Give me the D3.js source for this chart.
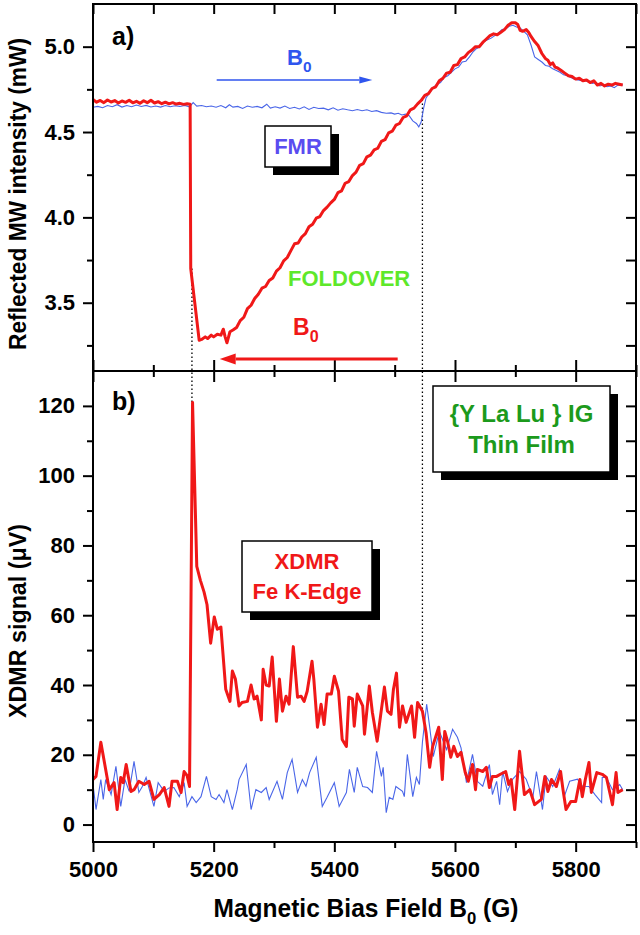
<!DOCTYPE html>
<html>
<head>
<meta charset="utf-8">
<script src="https://cdn.jsdelivr.net/npm/d3@7"></script>
<style>
  body { margin: 0; background: #fff; }
  text { font-family: "Liberation Sans", Arial, sans-serif; font-weight: bold; }
</style>
</head>
<body>
<svg id="chart" width="640" height="935"></svg>
<script>
// ---- data ----
var fieldTicks = [5000, 5200, 5400, 5600, 5800];
var fieldMinor = [5100, 5300, 5500, 5700, 5900];
var powerTicks = [3.5, 4.0, 4.5, 5.0];
var powerMinor = [3.25, 3.75, 4.25, 4.75];
var signalTicks = [0, 20, 40, 60, 80, 100, 120];
var signalMinor = [10, 30, 50, 70, 90, 110];

// a) FMR, field swept up (blue)
var fmrUp = [[5000,4.645],[5008,4.65],[5016,4.642],[5024,4.655],[5032,4.648],[5040,4.66],[5048,4.646],[5056,4.655],[5064,4.648],[5072,4.658],[5080,4.65],[5088,4.656],[5096,4.647],[5104,4.652],[5112,4.646],[5120,4.655],[5128,4.648],[5136,4.654],[5144,4.65],[5152,4.656],[5160,4.648],[5166,4.672],[5172,4.652],[5180,4.655],[5188,4.648],[5196,4.652],[5204,4.645],[5212,4.655],[5220,4.642],[5226,4.66],[5232,4.646],[5240,4.65],[5248,4.638],[5256,4.652],[5264,4.645],[5272,4.65],[5280,4.642],[5288,4.663],[5294,4.64],[5302,4.648],[5310,4.64],[5318,4.652],[5326,4.638],[5334,4.645],[5342,4.635],[5350,4.648],[5358,4.632],[5366,4.645],[5374,4.638],[5382,4.64],[5390,4.63],[5398,4.642],[5406,4.628],[5414,4.636],[5422,4.63],[5430,4.625],[5438,4.632],[5446,4.625],[5454,4.63],[5462,4.62],[5470,4.625],[5478,4.615],[5486,4.61],[5494,4.612],[5500,4.605],[5506,4.61],[5512,4.6],[5518,4.605],[5524,4.595],[5530,4.565],[5536,4.55],[5540,4.53],[5544,4.56],[5548,4.64],[5552,4.7],[5558,4.73],[5564,4.76],[5570,4.78],[5576,4.79],[5582,4.82],[5588,4.83],[5594,4.85],[5600,4.87],[5606,4.88],[5612,4.91],[5618,4.915],[5624,4.94],[5630,4.97],[5636,4.99],[5642,5.0],[5648,5.03],[5654,5.04],[5660,5.05],[5666,5.065],[5672,5.08],[5678,5.1],[5684,5.105],[5690,5.12],[5696,5.125],[5702,5.115],[5708,5.11],[5714,5.09],[5720,5.07],[5726,5.01],[5732,4.94],[5738,4.925],[5744,4.91],[5750,4.89],[5756,4.885],[5762,4.87],[5768,4.86],[5774,4.85],[5780,4.835],[5786,4.83],[5792,4.82],[5798,4.81],[5804,4.805],[5810,4.8],[5816,4.8],[5822,4.795],[5828,4.785],[5834,4.79],[5840,4.77],[5846,4.775],[5852,4.765],[5858,4.77],[5864,4.76],[5870,4.775],[5878,4.775]];

// a) foldover, field swept down (red)
var foldDown = [[5000,4.69],[5006,4.675],[5012,4.685],[5018,4.672],[5024,4.688],[5030,4.676],[5036,4.684],[5042,4.67],[5048,4.682],[5054,4.674],[5060,4.686],[5066,4.671],[5072,4.68],[5078,4.668],[5084,4.683],[5090,4.672],[5096,4.686],[5102,4.67],[5108,4.678],[5114,4.666],[5120,4.675],[5126,4.665],[5132,4.672],[5138,4.664],[5144,4.668],[5150,4.662],[5156,4.666],[5161,4.663],[5162,3.70],[5176,3.28],[5180,3.285],[5186,3.30],[5190,3.29],[5196,3.31],[5200,3.30],[5206,3.315],[5212,3.31],[5216,3.345],[5219,3.30],[5222,3.265],[5227,3.33],[5232,3.34],[5238,3.355],[5244,3.395],[5250,3.415],[5256,3.465],[5262,3.485],[5268,3.525],[5274,3.55],[5280,3.585],[5286,3.595],[5292,3.63],[5298,3.645],[5304,3.685],[5310,3.705],[5316,3.745],[5322,3.765],[5328,3.805],[5334,3.845],[5340,3.85],[5346,3.885],[5352,3.905],[5358,3.945],[5364,3.96],[5370,3.995],[5376,4.005],[5382,4.04],[5388,4.06],[5394,4.085],[5400,4.105],[5406,4.145],[5412,4.155],[5418,4.20],[5424,4.21],[5430,4.245],[5436,4.265],[5442,4.305],[5448,4.315],[5454,4.355],[5460,4.365],[5466,4.395],[5472,4.405],[5478,4.445],[5484,4.455],[5490,4.495],[5496,4.505],[5502,4.54],[5508,4.55],[5514,4.585],[5520,4.595],[5526,4.63],[5532,4.64],[5538,4.665],[5544,4.685],[5550,4.715],[5556,4.725],[5562,4.755],[5568,4.765],[5574,4.8],[5580,4.815],[5586,4.845],[5592,4.85],[5598,4.89],[5604,4.895],[5610,4.93],[5616,4.94],[5622,4.965],[5628,4.98],[5634,5.0],[5640,5.0],[5646,5.025],[5652,5.045],[5658,5.065],[5664,5.075],[5670,5.07],[5676,5.085],[5682,5.10],[5688,5.125],[5694,5.14],[5700,5.14],[5704,5.13],[5708,5.095],[5712,5.09],[5718,5.10],[5722,5.085],[5726,5.06],[5732,5.03],[5738,5.005],[5744,4.96],[5750,4.93],[5754,4.92],[5758,4.895],[5762,4.905],[5766,4.88],[5770,4.875],[5776,4.86],[5782,4.845],[5788,4.83],[5794,4.825],[5800,4.81],[5806,4.815],[5812,4.80],[5818,4.805],[5824,4.79],[5830,4.8],[5836,4.775],[5842,4.785],[5848,4.77],[5854,4.78],[5860,4.775],[5866,4.785],[5872,4.78],[5878,4.775]];

// b) XDMR, field swept down (red)
var xdmrDown = [[5000,12.9],[5005,13.8],[5013,23.6],[5018,18.7],[5027,10],[5035,12],[5040,4.3],[5046,13.5],[5050,12],[5055,17.2],[5063,9.5],[5068,10],[5076,12.4],[5085,11.5],[5093,12.4],[5101,7.2],[5110,8.6],[5118,10.6],[5126,5.2],[5131,12.4],[5140,12.4],[5146,9.2],[5151,15.2],[5156,14],[5160,10.9],[5165,121],[5172,74],[5178,70],[5184,66.7],[5189,63],[5195,52],[5201,59.5],[5206,56],[5212,56.6],[5220,38.8],[5227,35.3],[5231,44],[5236,41.7],[5242,34],[5247,35],[5256,35.3],[5262,40],[5267,36],[5272,36.8],[5279,30],[5282,44.5],[5287,40],[5292,39.7],[5297,48],[5304,29.6],[5309,41.7],[5314,32.5],[5320,36.8],[5325,34.5],[5332,51],[5339,36.5],[5345,36.8],[5350,35.3],[5355,38.2],[5363,46.8],[5366,41.7],[5372,27.9],[5378,34.5],[5383,28.7],[5388,37.4],[5395,37.4],[5400,42.5],[5407,38.2],[5413,24.4],[5420,22.4],[5424,36.5],[5430,36],[5433,28.2],[5438,37.4],[5447,34],[5450,25.9],[5458,39.7],[5463,32.2],[5471,23.9],[5483,39.4],[5488,32.5],[5494,31.6],[5498,38.8],[5503,43.4],[5508,27.9],[5513,34],[5519,29.3],[5528,34],[5533,25],[5538,35],[5546,32.5],[5552,26.4],[5558,16.4],[5563,22.4],[5573,27.9],[5579,12.9],[5583,26.7],[5588,23.6],[5593,19.3],[5598,22.4],[5604,19.5],[5610,20.7],[5617,14.9],[5622,12.4],[5629,17.2],[5634,10],[5637,15.8],[5646,15.2],[5652,16.4],[5657,10.6],[5662,13.8],[5669,13.8],[5676,14.5],[5684,15.2],[5689,11.5],[5693,12.9],[5699,4.3],[5707,21],[5715,8.6],[5724,10],[5732,5.7],[5743,7.2],[5749,13.8],[5754,9.5],[5760,12.9],[5768,10.9],[5775,15.2],[5779,10],[5784,4.3],[5792,6.6],[5800,6.6],[5807,12.9],[5811,8],[5816,12.9],[5822,17.8],[5826,9.2],[5835,14.9],[5844,14.4],[5851,13.5],[5861,5.7],[5867,14.9],[5870,9.2],[5878,10]];

// b) XDMR, field swept up (blue)
var xdmrUp = [[5000,11.5],[5005,4.3],[5013,12.9],[5017,7.2],[5021,12.9],[5030,8.6],[5038,16.7],[5046,5.2],[5053,12.9],[5060,9.5],[5068,18.1],[5076,9.2],[5082,11],[5088,13.5],[5095,9],[5101,5.2],[5108,12],[5118,9.5],[5126,10.5],[5134,10.6],[5143,8],[5151,12],[5156,5.2],[5164,8],[5171,6.3],[5179,8],[5188,13.8],[5196,8],[5204,7.2],[5209,8.6],[5217,6.3],[5222,10],[5231,4.3],[5239,10],[5242,12.9],[5254,17.2],[5262,4.3],[5270,10],[5279,9.2],[5287,10.6],[5292,7.2],[5305,12.4],[5314,7.2],[5322,14.9],[5330,18.7],[5339,9.2],[5347,12.9],[5353,11],[5359,14.9],[5370,19.3],[5380,5.2],[5388,7.8],[5400,12],[5408,5.2],[5420,9.2],[5425,15.8],[5433,9.2],[5438,16.4],[5447,10.9],[5455,10.6],[5463,9.2],[5470,21],[5478,13.8],[5481,16.4],[5486,3.4],[5491,7.8],[5497,7.2],[5502,10.9],[5513,9.5],[5516,8],[5521,20.1],[5530,8],[5536,13.5],[5541,11.5],[5546,23.6],[5553,34.5],[5558,28],[5564,19.5],[5574,26.7],[5586,21.5],[5596,27.3],[5604,25],[5610,22],[5619,12],[5629,20.1],[5637,12.4],[5646,11],[5657,17.2],[5662,8.6],[5669,12.4],[5674,5.7],[5679,15.2],[5687,9.5],[5695,12.9],[5707,15.2],[5718,13],[5729,7.8],[5735,15.2],[5745,4.3],[5751,13.8],[5762,10.9],[5773,15.8],[5781,8],[5790,12.4],[5803,13],[5811,11],[5822,10.9],[5832,8.6],[5843,6.3],[5844,13.5],[5851,13.5],[5861,10],[5873,11.5],[5878,10]];

// fields where the jumps line up between panels
var jumpLinks = [[5164, 3.70, 121], [5546, 4.69, 33]];

// ---- layout ----
var padL = 93, padR = 636, padT = 4, padM = 371, padB = 842;
var red = "#f01818", blue = "#4a66e8";

var svg = d3.select("#chart");

var x = d3.scaleLinear().domain([5000, 5900]).range([padL, padR]);
var yTop = d3.scaleLinear().domain([3.1, 5.25]).range([padM, padT]);
var yBot = d3.scaleLinear().domain([-5, 130]).range([padB, padM]);

function styleAxis(g) {
  g.select(".domain").remove();
  g.selectAll("line").attr("stroke", "#000").attr("stroke-width", 2);
  g.selectAll("text").attr("fill", "#000");
}

function addAxis(axis, tx, ty, size) {
  var g = svg.append("g").attr("transform", "translate(" + tx + "," + ty + ")").call(axis).call(styleAxis);
  g.selectAll("text").style("font-size", size ? size + "px" : null);
  return g;
}

// x axes
addAxis(d3.axisBottom(x).tickValues(fieldTicks).tickSize(10).tickPadding(9).tickFormat(d3.format("d")), 0, padB, 22);
addAxis(d3.axisBottom(x).tickValues(fieldMinor).tickSize(6).tickFormat(""), 0, padB);
addAxis(d3.axisBottom(x).tickValues(fieldTicks).tickSize(11).tickFormat(""), 0, padM);
addAxis(d3.axisTop(x).tickValues(fieldTicks).tickSize(11).tickFormat(""), 0, padM);
addAxis(d3.axisBottom(x).tickValues(fieldMinor).tickSize(6).tickFormat(""), 0, padM);
addAxis(d3.axisTop(x).tickValues(fieldMinor).tickSize(6).tickFormat(""), 0, padM);
addAxis(d3.axisBottom(x).tickValues(fieldTicks.concat(fieldMinor)).tickSize(10).tickFormat(""), 0, padT);

// y axes, panel a
addAxis(d3.axisLeft(yTop).tickValues(powerTicks).tickSize(10).tickPadding(8).tickFormat(d3.format(".1f")), padL, 0, 22);
addAxis(d3.axisLeft(yTop).tickValues(powerMinor).tickSize(6).tickFormat(""), padL, 0);
addAxis(d3.axisLeft(yTop).tickValues(powerTicks.concat(powerMinor)).tickSize(10).tickFormat(""), padR, 0);

// y axes, panel b
addAxis(d3.axisLeft(yBot).tickValues(signalTicks).tickSize(10).tickPadding(8), padL, 0, 22);
addAxis(d3.axisLeft(yBot).tickValues(signalMinor).tickSize(6).tickFormat(""), padL, 0);
addAxis(d3.axisLeft(yBot).tickValues(signalTicks.concat(signalMinor)).tickSize(10).tickFormat(""), padR, 0);

// dotted guide lines
svg.append("g").selectAll("line").data(jumpLinks).enter().append("line")
  .attr("x1", function(d) { return x(d[0]); })
  .attr("x2", function(d) { return x(d[0]); })
  .attr("y1", function(d) { return yTop(d[1]); })
  .attr("y2", function(d) { return yBot(d[2]); })
  .attr("stroke", "#000").attr("stroke-width", 1.3).attr("stroke-dasharray", "1.5,2.5");

// curves
var lineTop = d3.line().x(function(d) { return x(d[0]); }).y(function(d) { return yTop(d[1]); });
var lineBot = d3.line().x(function(d) { return x(d[0]); }).y(function(d) { return yBot(d[1]); });

svg.append("path").datum(fmrUp).attr("d", lineTop)
  .attr("fill", "none").attr("stroke", blue).attr("stroke-width", 1.1);
svg.append("path").datum(foldDown).attr("d", lineTop)
  .attr("fill", "none").attr("stroke", red).attr("stroke-width", 3).attr("stroke-linejoin", "round");
svg.append("path").datum(xdmrUp).attr("d", lineBot)
  .attr("fill", "none").attr("stroke", blue).attr("stroke-width", 1.1);
svg.append("path").datum(xdmrDown).attr("d", lineBot)
  .attr("fill", "none").attr("stroke", red).attr("stroke-width", 3).attr("stroke-linejoin", "round");

// frame
svg.append("rect").attr("x", padL).attr("y", padT).attr("width", padR - padL).attr("height", padB - padT)
  .attr("fill", "none").attr("stroke", "#000").attr("stroke-width", 2);
svg.append("line").attr("x1", padL).attr("x2", padR).attr("y1", padM).attr("y2", padM)
  .attr("stroke", "#000").attr("stroke-width", 2);

// panel labels
svg.append("text").attr("x", 112).attr("y", 45).style("font-size", "25px").text("a)");
svg.append("text").attr("x", 112).attr("y", 410).style("font-size", "25px").text("b)");

// sweep arrows
function arrow(x1, x2, y, color, width, headLen, headHalf) {
  var dir = x2 > x1 ? 1 : -1;
  svg.append("line").attr("x1", x1).attr("x2", x2 - dir * headLen).attr("y1", y).attr("y2", y)
    .attr("stroke", color).attr("stroke-width", width);
  svg.append("path")
    .attr("d", "M" + x2 + "," + y + "L" + (x2 - dir * headLen) + "," + (y - headHalf) +
               "L" + (x2 - dir * headLen) + "," + (y + headHalf) + "Z")
    .attr("fill", color);
}
arrow(x(5205), x(5463), yTop(4.805), "#2f55ee", 1.5, 13, 3.5);
arrow(x(5505), x(5210), yTop(3.17), red, 3, 16, 5.5);

function bLabel(px, py, color, size) {
  var t = svg.append("text").attr("x", px).attr("y", py).attr("fill", color).style("font-size", size + "px");
  t.append("tspan").text("B");
  t.append("tspan").attr("dy", size * 0.32).style("font-size", (size * 0.7) + "px").text("0");
}
bLabel(287, 65, "#2f55ee", 22);
bLabel(293, 335, red, 23);

svg.append("text").attr("x", 288).attr("y", 286).attr("fill", "#5ee82a").style("font-size", "22px").text("FOLDOVER");

// shadowed boxes
function shadowBox(x0, y0, w, h, lines, color, size, gap) {
  svg.append("rect").attr("x", x0 + 8).attr("y", y0 + 8).attr("width", w).attr("height", h).attr("fill", "#000");
  svg.append("rect").attr("x", x0).attr("y", y0).attr("width", w).attr("height", h)
    .attr("fill", "#fff").attr("stroke", "#000").attr("stroke-width", 1.5);
  var first = y0 + h / 2 - (lines.length - 1) * gap / 2 + size * 0.36;
  lines.forEach(function(s, i) {
    svg.append("text").attr("x", x0 + w / 2).attr("y", first + i * gap)
      .attr("text-anchor", "middle").attr("fill", color).style("font-size", size + "px").text(s);
  });
}
shadowBox(265, 126, 66, 41, ["FMR"], "#5a4cf0", 22, 0);
shadowBox(433, 386, 177, 86, ["{Y La Lu } IG", "Thin Film"], "#1c9a1c", 24, 31);
shadowBox(242, 541, 130, 71, ["XDMR", "Fe K-Edge"], red, 22, 30);

// axis titles
var xt = svg.append("text").attr("x", 366).attr("y", 917).attr("text-anchor", "middle")
  .style("font-size", "25px").attr("textLength", 305).attr("lengthAdjust", "spacingAndGlyphs");
xt.append("tspan").text("Magnetic Bias Field B");
xt.append("tspan").attr("dy", 7).style("font-size", "17px").text("0");
xt.append("tspan").attr("dy", -7).text(" (G)");

svg.append("text").attr("transform", "translate(26,194) rotate(-90)").attr("text-anchor", "middle")
  .style("font-size", "23px").attr("textLength", 312).attr("lengthAdjust", "spacingAndGlyphs")
  .text("Reflected MW intensity (mW)");
svg.append("text").attr("transform", "translate(26,621) rotate(-90)").attr("text-anchor", "middle")
  .style("font-size", "23px").attr("textLength", 194).attr("lengthAdjust", "spacingAndGlyphs")
  .text("XDMR signal (\u03bcV)");
</script>
</body>
</html>
